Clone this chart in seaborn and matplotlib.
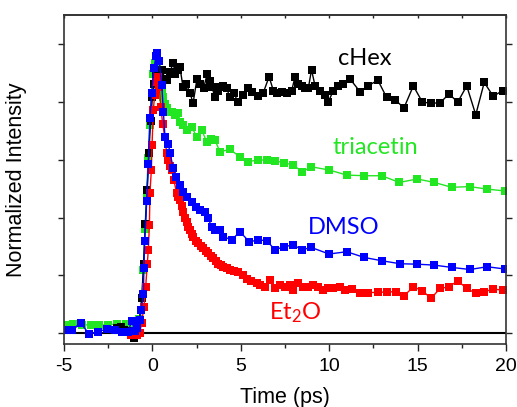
import numpy as np
import pandas as pd
import seaborn as sns
from matplotlib import pyplot as plt
from matplotlib.ticker import MultipleLocator

# cHex (black)
chex_t = [-2.0, -1.8, -1.6, -1.4, -1.2, -1.05, -0.9, -0.75, -0.6, -0.5, -0.4, -0.3, -0.2, -0.1,
          0.0, 0.1, 0.2, 0.3, 0.43, 0.55, 0.7, 0.83, 1.0, 1.17, 1.3, 1.45, 1.56, 1.73, 1.9, 2.13,
          2.3, 2.52, 2.7, 2.9, 3.09, 3.25, 3.37, 3.54, 3.7, 3.82, 4.0, 4.2, 4.39, 4.6, 4.84, 5.1,
          5.4, 5.65, 6.0, 6.27, 6.6, 6.84, 7.03, 7.31, 7.6, 7.88, 8.07, 8.25, 8.44, 8.63, 8.82,
          9.0, 9.2, 9.48, 9.76, 9.95, 10.23, 10.5, 10.8, 11.18, 11.74, 12.2, 12.75, 13.25, 13.72,
          14.23, 14.76, 15.27, 15.76, 16.27, 16.78, 17.27, 17.78, 18.29, 18.77, 19.28, 19.81]
chex_i = [0.02, 0.025, 0.015, 0.01, -0.01, -0.02, -0.005, 0.05, 0.15, 0.3, 0.47, 0.62, 0.78, 0.92,
          1.02, 1.08, 1.12, 1.10, 1.125, 1.14, 1.10, 1.095, 1.13, 1.17, 1.12, 1.14, 1.15, 1.065, 1.08, 1.04,
          0.995, 1.10, 1.08, 1.06, 1.12, 1.09, 1.065, 1.02, 1.05, 1.065, 1.07, 1.06, 1.02, 1.04, 1.0, 1.03,
          1.06, 1.045, 1.025, 1.04, 1.11, 1.05, 1.04, 1.045, 1.04, 1.05, 1.11, 1.08, 1.07, 1.06, 1.06,
          1.14, 1.07, 1.05, 1.03, 1.0, 1.05, 1.07, 1.08, 1.10, 1.045, 1.07, 1.095, 1.02, 1.01,
          0.975, 1.07, 1.0, 0.995, 0.997, 1.035, 1.0, 1.07, 0.945, 1.085, 1.025, 1.05]

# triacetin (green)
tri_t = [-4.95, -4.5, -4.0, -3.5, -3.0, -2.5, -2.0, -1.5, -1.0, -0.75, -0.6, -0.51, -0.42, -0.33,
         -0.24, -0.15, -0.05, 0.05, 0.15, 0.24, 0.35, 0.45, 0.53, 0.62, 0.71, 0.81, 0.9, 1.09, 1.28,
         1.47, 1.56, 1.75, 1.94, 2.22, 2.5, 2.79, 3.07, 3.3, 3.54, 3.82, 4.39, 4.95, 5.42, 5.95,
         6.47, 6.93, 7.44, 7.97, 8.48, 8.97, 9.99, 10.99, 11.99, 12.97, 13.97, 14.98, 15.94, 16.93,
         17.96, 18.94, 19.95]
tri_i = [0.035, 0.04, 0.035, 0.035, 0.035, 0.035, 0.04, 0.04, 0.045, 0.06, 0.15, 0.273, 0.45, 0.6,
         0.76, 0.9, 1.03, 1.12, 1.17, 1.15, 1.11, 1.07, 1.045, 1.02, 0.99, 0.975, 0.955, 0.958, 0.944,
         0.951, 0.915, 0.90, 0.879, 0.893, 0.85, 0.879, 0.828, 0.84, 0.835, 0.785, 0.795, 0.763, 0.742, 0.749,
         0.749, 0.746, 0.737, 0.727, 0.698, 0.72, 0.706, 0.684, 0.681, 0.681, 0.652, 0.667, 0.652, 0.631,
         0.634, 0.623, 0.615]

# DMSO (blue)
dmso_t = [-4.94, -4.56, -4.06, -3.57, -3.06, -2.59, -2.12, -1.74, -1.36, -1.17, -1.0, -0.89, -0.7,
          -0.64, -0.51, -0.48, -0.44, -0.32, -0.23, -0.14, -0.04, 0.09, 0.2, 0.26, 0.37, 0.53, 0.62,
          0.71, 0.9, 1.0, 1.18, 1.33, 1.56, 1.75, 1.97, 2.22, 2.47, 2.69, 2.98, 3.16, 3.35, 3.54,
          3.82, 4.01, 4.49, 4.95, 5.48, 5.99, 6.47, 6.93, 7.44, 7.97, 8.48, 8.97, 9.99, 10.99,
          11.99, 12.97, 14.0, 14.98, 15.94, 16.93, 17.96, 18.94, 19.95]
dmso_i = [0.013, 0.013, 0.043, -0.005, 0.006, 0.017, 0.013, 0.006, 0.006, 0.053, 0.01, 0.02, 0.056,
          0.10, 0.17, 0.28, 0.40, 0.57, 0.73, 0.93, 1.04, 1.146, 1.2, 1.213, 1.18, 1.075, 0.958,
          0.85, 0.82, 0.778, 0.713, 0.677, 0.64, 0.61, 0.59, 0.568, 0.547, 0.532, 0.525, 0.496, 0.46, 0.446,
          0.446, 0.417, 0.403, 0.439, 0.395, 0.403, 0.40, 0.36, 0.374, 0.381, 0.36, 0.371, 0.342, 0.352,
          0.327, 0.313, 0.30, 0.298, 0.294, 0.284, 0.275, 0.287, 0.277]

# Et2O (red)
et2o_t = [-1.2, -1.0, -0.85, -0.72, -0.61, -0.48, -0.38, -0.29, -0.23, -0.17, -0.14, -0.06, -0.02,
          0.05, 0.13, 0.2, 0.3, 0.39, 0.47, 0.58, 0.7, 0.81, 0.9, 1.0, 1.09, 1.22, 1.37, 1.46, 1.56,
          1.65, 1.75, 1.85, 1.94, 2.04, 2.13, 2.22, 2.31, 2.45, 2.6, 2.74, 2.88, 3.02, 3.16, 3.3,
          3.45, 3.6, 3.73, 3.87, 4.01, 4.2, 4.39, 4.6, 4.86, 5.1, 5.33, 5.6, 5.9, 6.1, 6.37, 6.65,
          6.93, 7.22, 7.5, 7.78, 7.97, 8.25, 8.54, 8.82, 9.1, 9.38, 9.67, 9.95, 10.23, 10.61, 10.89,
          11.27, 11.74, 12.2, 12.75, 13.29, 13.76, 14.25, 14.76, 15.27, 15.76, 16.27, 16.78, 17.27,
          17.78, 18.29, 18.77, 19.28, 19.81]
et2o_i = [-0.01, -0.01, -0.01, 0.0, 0.042, 0.114, 0.20, 0.30, 0.36, 0.467, 0.605, 0.706, 0.814,
          0.965, 1.03, 1.088, 1.11, 1.066, 0.98, 0.907, 0.85, 0.778, 0.749, 0.725, 0.706, 0.662, 0.605, 0.59, 0.576,
          0.55, 0.525, 0.50, 0.482, 0.46, 0.446, 0.43, 0.417, 0.40, 0.388, 0.377, 0.366, 0.355, 0.345, 0.333,
          0.323, 0.31, 0.30, 0.293, 0.287, 0.28, 0.273, 0.27, 0.265, 0.25, 0.236, 0.225, 0.215, 0.208, 0.20, 0.229,
          0.193, 0.208, 0.20, 0.208, 0.186, 0.215, 0.20, 0.20, 0.208, 0.20, 0.186, 0.193, 0.193, 0.20, 0.186,
          0.19, 0.175, 0.175, 0.176, 0.178, 0.179, 0.162, 0.20, 0.183, 0.15, 0.193, 0.20, 0.226,
          0.193, 0.172, 0.179, 0.19, 0.186]

series = [
    ('triacetin', tri_t, tri_i, '#22e622', (12.6, 0.805)),
    ('cHex', chex_t, chex_i, 'black', (12.0, 1.19)),
    ('Et$_{2}$O', et2o_t, et2o_i, '#ff0000', (8.07, 0.09)),
    ('DMSO', dmso_t, dmso_i, '#0000ff', (10.84, 0.455)),
]

sns.set_theme(style='ticks')
plt.rcParams['font.family'] = ['Liberation Sans', 'DejaVu Sans']
plt.rcParams['mathtext.default'] = 'regular'
plt.rcParams['axes.unicode_minus'] = False
plt.rcParams['text.color'] = 'black'
plt.rcParams['axes.labelcolor'] = 'black'
plt.rcParams['xtick.color'] = '#222222'
plt.rcParams['ytick.color'] = '#222222'
plt.rcParams['xtick.labelcolor'] = 'black'

fig = plt.figure(figsize=(5.17, 4.07), dpi=100)
ax = fig.add_axes([0.1238, 0.1548, 0.9787 - 0.1238, 0.9631 - 0.1548])

ax.axhline(0, color='black', lw=1.5, zorder=1.5)

for name, t, inten, col, pos in series:
    df = pd.DataFrame({'t': t, 'i': inten})
    sns.lineplot(data=df, x='t', y='i', ax=ax, color=col, marker='s', markersize=6,
                 markeredgewidth=0, linewidth=1, estimator=None, sort=False)
    ax.text(pos[0], pos[1], name, color=col, fontsize=17, ha='center', va='center',
            family=['Lato', 'DejaVu Sans'])

ax.set_xlim(-5, 20)
ax.set_ylim(-0.0476, 1.377)
ax.xaxis.set_major_locator(MultipleLocator(5))
ax.xaxis.set_minor_locator(MultipleLocator(2.5))
ax.yaxis.set_major_locator(MultipleLocator(0.25))
ax.set_yticklabels([])
ax.tick_params(axis='x', which='major', length=5, width=1, labelsize=14, pad=5)
ax.tick_params(axis='x', which='minor', length=3, width=1)
ax.tick_params(axis='y', which='major', length=4, width=1, right=True)

# small inward ticks along the top edge
top = ax.secondary_xaxis('top')
top.xaxis.set_major_locator(MultipleLocator(2.5))
top.tick_params(direction='in', length=2, width=1, labeltop=False)
top.spines['top'].set_linewidth(1.2)
top.spines['top'].set_color('#333333')

for s in ax.spines.values():
    s.set_linewidth(1.2)
    s.set_color('#333333')

ax.set_xlabel('Time (ps)', fontsize=15.5, labelpad=9)
ax.set_ylabel('Normalized Intensity', fontsize=15.5, labelpad=19)

fig.savefig('out.png', dpi=100)
